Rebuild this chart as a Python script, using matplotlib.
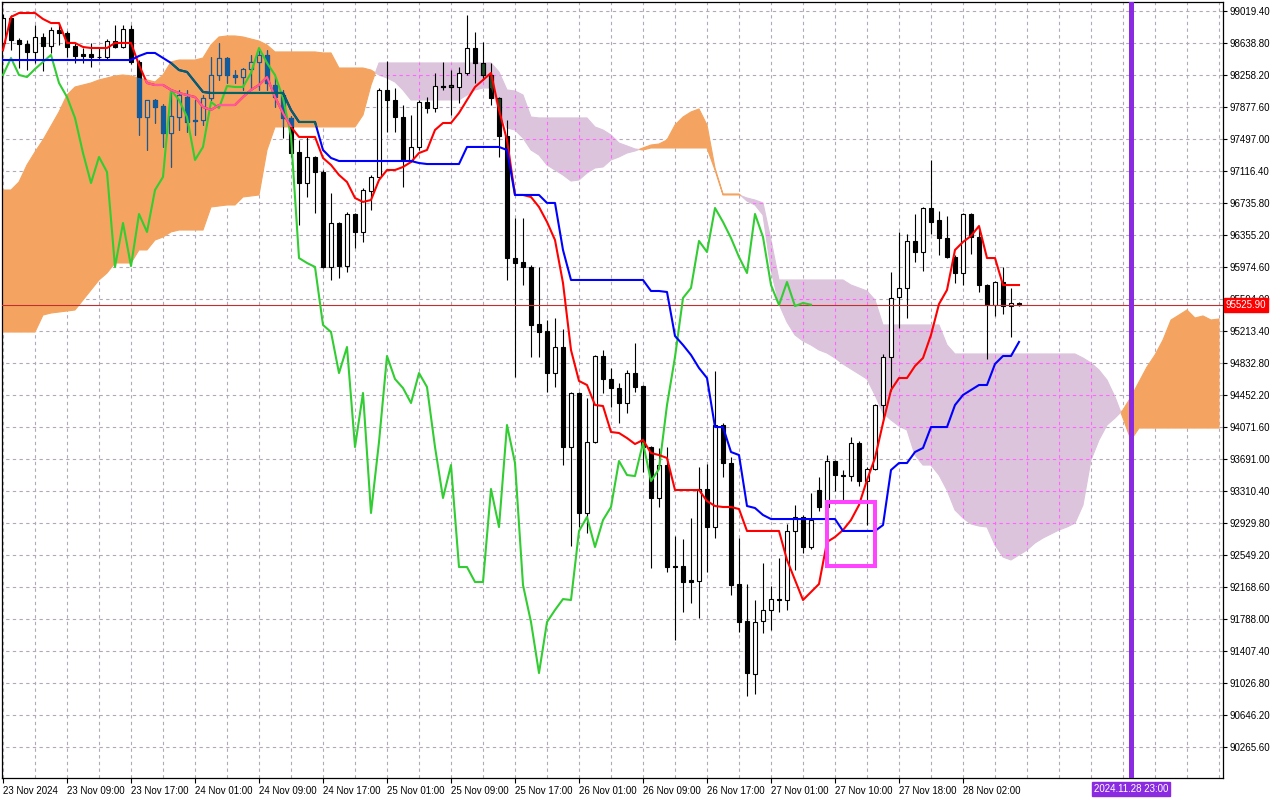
import numpy as np
import matplotlib
matplotlib.use("Agg")
import matplotlib.pyplot as plt
import matplotlib.transforms as mtrans
from matplotlib.path import Path
from matplotlib.patches import Rectangle

plt.rcParams['font.family'] = ['Liberation Sans', 'DejaVu Sans']

# hourly candles, 23 Nov 2024 00:00 .. 28 Nov 2024 09:00
opens = [98639, 98936, 98674, 98627, 98532, 98710, 98603, 98793, 98758, 98603,
         98508, 98508, 98472, 98472, 98662, 98591, 98805, 98413, 97758, 97961,
         97889, 97568, 97758, 97996, 97723, 97723, 97984, 98258, 98460, 98258,
         98234, 98329, 98413, 98496, 98139, 98020, 97747, 97342, 96973, 97283,
         97104, 95975, 96498, 95986, 96605, 96391, 96878, 97045, 98080, 97961,
         97758, 97247, 97402, 97937, 97865, 98127, 98139, 98115, 98282, 98579,
         98401, 98258, 97984, 97532, 96081, 96034, 95975, 95296, 95213, 94713,
         95023, 93833, 94476, 93049, 93893, 94916, 94642, 94535, 94357, 94713,
         94559, 93833, 93227, 93619, 92418, 92418, 92251, 92239, 93334, 92882,
         94095, 93643, 92204, 91764, 91133, 91764, 91895, 92025, 92014, 92834,
         93001, 92644, 93322, 93120, 93667, 93500, 93488, 93881, 93429, 93572,
         94333, 94904, 95618, 95725, 96284, 96153, 96676, 96533, 96319, 96093,
         95903, 96605, 96331, 95760, 95522, 95796, 95510, 95546]
highs = [98983, 98972, 98698, 98674, 98853, 98758, 98829, 98865, 98781, 98639,
         98579, 98639, 98579, 98686, 98853, 98853, 98853, 98436, 97961, 97972,
         97913, 98080, 98080, 98080, 97961, 98020, 98472, 98639, 98470, 98317,
         98341, 98496, 98555, 98555, 98234, 98080, 97770, 97485, 97521, 97290,
         97128, 96854, 96510, 96628, 96617, 96914, 97069, 98103, 98425, 98103,
         97901, 97782, 97961, 97996, 98282, 98413, 98317, 98353, 98972, 98769,
         98650, 98401, 97996, 97723, 96557, 96557, 95998, 95975, 95344, 95368,
         95237, 94490, 94490, 94416, 94925, 94987, 94773, 94595, 94749, 95070,
         94570, 93845, 93821, 93833, 92775, 92739, 92989, 93596, 93631, 94737,
         94119, 93714, 92751, 92204, 92014, 92454, 92180, 92513, 92918, 93144,
         93025, 93286, 93477, 93738, 93679, 93560, 93952, 93905, 93596, 94345,
         94939, 95915, 96391, 96367, 96605, 96690, 97247, 96641, 96581, 96117,
         96617, 96617, 96450, 95770, 95808, 95975, 95725, 95558]
lows = [98579, 98555, 98341, 98317, 98401, 98306, 98520, 98615, 98472, 98401,
        98401, 98353, 98436, 98436, 98579, 98579, 98389, 97544, 97366, 97687,
        97402, 97164, 97604, 97580, 97544, 97663, 97961, 98198, 98163, 98163,
        98080, 98080, 98080, 98080, 97877, 97509, 97283, 96474, 96807, 96617,
        95965, 95820, 95844, 95915, 96200, 96272, 96652, 97033, 97580, 97580,
        96926, 97223, 97366, 97806, 97818, 98080, 97782, 97925, 98258, 98163,
        98198, 97901, 97283, 95820, 94666, 95760, 94904, 94904, 94488, 94547,
        93619, 92656, 92882, 92810, 93881, 94476, 94309, 94119, 94238, 94488,
        93536, 92394, 93120, 92347, 91538, 91871, 91978, 91800, 92347, 92751,
        93477, 92073, 91633, 90872, 90896, 91621, 91657, 91871, 91895, 92370,
        92573, 92620, 93073, 93084, 93310, 93203, 93429, 93370, 92906, 93560,
        94154, 94500, 95249, 95368, 96034, 95927, 96367, 96117, 96080, 95784,
        95760, 96129, 95677, 94880, 95392, 95415, 95142, 95510]
closes = [98936, 98674, 98627, 98532, 98710, 98603, 98793, 98758, 98591, 98484,
          98484, 98472, 98466, 98662, 98591, 98805, 98413, 97758, 97961, 97877,
          97568, 97770, 98020, 97699, 97711, 97984, 98258, 98460, 98258, 98234,
          98329, 98413, 98496, 98163, 97996, 97747, 97330, 96973, 97283, 97104,
          95975, 96498, 95986, 96605, 96391, 96890, 97045, 98080, 97961, 97758,
          97247, 97402, 97937, 97865, 98127, 98115, 98115, 98282, 98579, 98401,
          98258, 97984, 97532, 96081, 96022, 95975, 95285, 95201, 94713, 95023,
          93833, 94476, 93049, 93893, 94916, 94642, 94535, 94357, 94713, 94547,
          93833, 93227, 93619, 92406, 92406, 92228, 92228, 93334, 92882, 94095,
          93643, 92192, 91752, 91145, 91752, 91895, 92025, 92014, 92834, 93001,
          92644, 92965, 93120, 93667, 93500, 93488, 93881, 93429, 93572, 94333,
          94904, 95606, 95725, 96284, 96153, 96676, 96510, 96319, 96093, 95903,
          96605, 96331, 95760, 95522, 95796, 95510, 95546, 95525.9]

tenkan = [98555, 98948, 98995, 98995, 98995, 98924, 98876, 98876, 98639, 98639,
          98591, 98579, 98579, 98579, 98639, 98639, 98639, 98377, 98163, 98139,
          98139, 98080, 98044, 98020, 97996, 97877, 97842, 97901, 97901, 97901,
          97996, 98080, 98139, 98234, 97996, 97806, 97640, 97521, 97521, 97521,
          97271, 97188, 97069, 96985, 96795, 96748, 96771, 97009, 97128, 97128,
          97164, 97223, 97330, 97366, 97604, 97687, 97687, 97806, 97961, 98115,
          98198, 98282, 97842, 97485, 96831, 96831, 96807, 96688, 96510, 96295,
          95784, 94987, 94619, 94571, 94333, 94321, 94012, 94000, 93940, 93869,
          93917, 93762, 93738, 93703, 93322, 93322, 93322, 93322, 93191, 93132,
          93120, 93120, 93096, 92835, 92835, 92835, 92835, 92835, 92490, 92252,
          92014, 92109, 92204, 92704, 92763, 92846, 92965, 93144, 93441, 93703,
          94119, 94511, 94654, 94654, 94797, 94892, 95166, 95534, 95701, 96177,
          96272, 96343, 96462, 96081, 96081, 95760, 95760, 95760]
kijun = [98436, 98436, 98436, 98436, 98436, 98436, 98436, 98436, 98436, 98436,
         98436, 98436, 98436, 98436, 98436, 98436, 98436, 98484, 98520, 98520,
         98460, 98401, 98317, 98294, 98175, 98056, 98044, 98044, 98044, 98044,
         98044, 98044, 98044, 98044, 98044, 98044, 97842, 97699, 97699, 97699,
         97366, 97271, 97235, 97235, 97235, 97235, 97235, 97235, 97235, 97235,
         97235, 97235, 97211, 97199, 97199, 97199, 97199, 97199, 97402, 97402,
         97402, 97402, 97402, 97366, 96831, 96831, 96831, 96831, 96736, 96736,
         96177, 95820, 95820, 95820, 95820, 95820, 95820, 95820, 95820, 95820,
         95820, 95689, 95689, 95677, 95154, 95047, 94928, 94773, 94654, 94071,
         94071, 93774, 93738, 93132, 93108, 93025, 92977, 92977, 92977, 92977,
         92977, 92977, 92977, 92977, 92977, 92835, 92835, 92835, 92835, 92835,
         92905, 93560, 93643, 93643, 93774, 93822, 94071, 94071, 94071, 94333,
         94452, 94511, 94571, 94571, 94821, 94916, 94916, 95083]
# senkou spans, already shifted 26 bars forward (153 bars)
span_a = [96890, 96890, 96985, 97188, 97342, 97485, 97651, 97818, 98020, 98115,
          98139, 98163, 98199, 98222, 98246, 98258, 98246, 98222, 98199, 98175,
          98258, 98413, 98436, 98436, 98436, 98460, 98615, 98710, 98722, 98722,
          98710, 98686, 98662, 98615, 98532, 98532, 98532, 98532, 98532, 98532,
          98520, 98520, 98341, 98341, 98341, 98341, 98317, 98258, 98222, 98175,
          98080, 97961, 97961, 97961, 97961, 97961, 97961, 97961, 98020, 98080,
          98103, 98103, 97842, 97628, 97604, 97509, 97366, 97306, 97188, 97128,
          97069, 96997, 97009, 97092, 97152, 97164, 97247, 97283, 97330, 97354,
          97390, 97425, 97437, 97485, 97663, 97758, 97818, 97854, 97663, 97152,
          96843, 96843, 96843, 96759, 96712, 96593, 95939, 95534, 95320, 95166,
          95094, 95047, 94987, 94951, 94892, 94821, 94761, 94702, 94642, 94452,
          94238, 94155, 94083, 94036, 93738, 93619, 93619, 93500, 93322, 93084,
          92989, 92918, 92894, 92882, 92668, 92525, 92490, 92549, 92608, 92692,
          92751, 92799, 92846, 92882, 92929, 93144, 93679, 93917, 94095, 94178,
          94274, 94428, 94607, 94785, 94928, 95106, 95344, 95403, 95463, 95368,
          95392, 95344, 95356]
span_b = [95201, 95201, 95201, 95201, 95201, 95403, 95427, 95439, 95451, 95463,
          95582, 95701, 95820, 95903, 96022, 96022, 96022, 96177, 96177, 96295,
          96331, 96391, 96414, 96414, 96414, 96414, 96688, 96700, 96712, 96712,
          96807, 96819, 96831, 97366, 97640, 97640, 97640, 97640, 97640, 97640,
          97640, 97640, 97640, 97640, 97640, 97782, 98139, 98401, 98401, 98401,
          98401, 98401, 98401, 98401, 98401, 98401, 98401, 98401, 98401, 98401,
          98401, 98401, 98294, 98080, 98068, 98020, 97758, 97747, 97747, 97747,
          97747, 97747, 97747, 97747, 97640, 97604, 97544, 97449, 97414, 97378,
          97366, 97390, 97390, 97390, 97390, 97390, 97390, 97390, 97390, 97128,
          96831, 96831, 96831, 96795, 96771, 96736, 96295, 95820, 95820, 95820,
          95820, 95820, 95820, 95820, 95820, 95820, 95760, 95725, 95689, 95582,
          95285, 95285, 95285, 95285, 95285, 95285, 95285, 95285, 95047, 94940,
          94940, 94940, 94940, 94940, 94940, 94940, 94940, 94940, 94940, 94940,
          94940, 94940, 94940, 94940, 94940, 94892, 94833, 94749, 94630, 94428,
          94178, 93917, 94059, 94059, 94059, 94059, 94059, 94059, 94059, 94059,
          94059, 94059, 94059]

price_ticks = [99019.40, 98638.80, 98258.20, 97877.60, 97497.00, 97116.40,
               96735.80, 96355.20, 95974.60, 95594.00, 95213.40, 94832.80,
               94452.20, 94071.60, 93691.00, 93310.40, 92929.80, 92549.20,
               92168.60, 91788.00, 91407.40, 91026.80, 90646.20, 90265.60]
time_ticks = [0, 8, 16, 24, 32, 40, 48, 56, 64, 72, 80, 88, 96, 104, 112, 120]
time_labels = ["23 Nov 2024", "23 Nov 09:00", "23 Nov 17:00", "24 Nov 01:00",
               "24 Nov 09:00", "24 Nov 17:00", "25 Nov 01:00", "25 Nov 09:00",
               "25 Nov 17:00", "26 Nov 01:00", "26 Nov 09:00", "26 Nov 17:00",
               "27 Nov 01:00", "27 Nov 10:00", "27 Nov 18:00", "28 Nov 02:00"]
last_price = 95525.90
future_bar = 141
future_label = "2024.11.28 23:00"
# rectangle object drawn on the chart
box_left, box_right = 102.95, 108.95
box_top, box_bottom = 93180, 92418

SANDY = "#F4A460"
THISTLE = "#DCC4DC"
GRID = "#b3a9b6"
FS = 7

o = np.array(opens, float)
h = np.array(highs, float)
l = np.array(lows, float)
c = np.array(closes, float)
xb = np.arange(len(o))
xs = np.arange(len(span_a))
sa = np.array(span_a, float)
sb = np.array(span_b, float)
chikou = c[26:]

fig = plt.figure(figsize=(12.8, 8), dpi=100)
ax = fig.add_axes([2 / 1280, 22 / 800, 1221 / 1280, 776 / 800])
ax.set_xlim(-0.125, 152.5)
ax.set_ylim(89897, 99126)

# grid
gx = np.arange(0, 153, 4)
ax.vlines(gx, 89897, 99126, colors=GRID, lw=0.8, linestyles=(0, (3, 3)), zorder=0)
ax.hlines(price_ticks, -1, 154, colors=GRID, lw=0.8, linestyles=(0, (3, 3)), zorder=0)

# kumo
orange = ax.fill_between(xs, sa, sb, where=sa >= sb, interpolate=True,
                         facecolor=SANDY, edgecolor=SANDY, lw=0.8, zorder=1)
thist = ax.fill_between(xs, sa, sb, where=sa < sb, interpolate=True,
                        facecolor=THISTLE, edgecolor=THISTLE, lw=0.8, zorder=1)
orange_path = Path.make_compound_path(*orange.get_paths())
thist_path = Path.make_compound_path(*thist.get_paths())

# grid shows through the thistle part in magenta
for coll in (ax.vlines(gx, 89897, 99126, colors="#ff66ff", lw=0.8, linestyles=(0, (3, 3)), zorder=1.5),
             ax.hlines(price_ticks, -1, 154, colors="#ff66ff", lw=0.8, linestyles=(0, (3, 3)), zorder=1.5)):
    coll.set_clip_path(thist_path, ax.transData)

bottoms = np.minimum(o, c)
heights = np.abs(c - o)
up = c >= o


def candles(face_up, face_dn, edge, z, clip=None, only_dn=False):
    arts = []
    if not only_dn:
        arts.append(ax.vlines(xb, l, h, colors=edge, lw=0.8, zorder=z))
    faces = [face_up if u else face_dn for u in up]
    sel = ~up if only_dn else np.ones(len(o), bool)
    bars = ax.bar(xb[sel], heights[sel], width=0.62, bottom=bottoms[sel],
                  color=[f for f, s in zip(faces, sel) if s], edgecolor=edge,
                  linewidth=0.8, zorder=z + 0.05)
    arts.extend(bars.patches)
    if clip is not None:
        for a in arts:
            a.set_clip_path(clip, ax.transData)


candles("white", "black", "black", 2)
candles(SANDY, "#115c9e", "#115c9e", 2.2, clip=orange_path)
candles("white", "#1f4a26", "black", 2.3, clip=thist_path, only_dn=True)

ax.axhline(last_price, color="#c03030", lw=0.8, zorder=3)

# ichimoku lines
ax.plot(xb[:len(chikou)], chikou, color="#32CD32", lw=1.5, zorder=4)
ax.plot(xb, tenkan, color="red", lw=1.5, zorder=4.1)
ax.plot(xb, kijun, color="blue", lw=1.5, zorder=4.2)
t2, = ax.plot(xb, tenkan, color="#ff5a9e", lw=1.5, zorder=4.15)
k2, = ax.plot(xb, kijun, color="#006464", lw=1.5, zorder=4.25)
t2.set_clip_path(orange_path, ax.transData)
k2.set_clip_path(orange_path, ax.transData)

ax.add_patch(Rectangle((box_left, box_bottom), box_right - box_left, box_top - box_bottom,
                       fill=False, edgecolor="#ff44ff", lw=2.9, zorder=5))
ax.axvline(future_bar, color="#8A2BE2", lw=3.6, zorder=5)

# axes styling
for s in ax.spines.values():
    s.set_color("black")
    s.set_linewidth(0.9)
ax.yaxis.tick_right()
ax.set_yticks(price_ticks)
ax.set_yticklabels([f"{v:.2f}" for v in price_ticks])
ax.tick_params(axis="y", direction="out", length=3, width=0.8, pad=2, labelsize=FS)
ax.set_xticks(time_ticks)
ax.set_xticklabels(time_labels)
for lbl in ax.get_xticklabels():
    lbl.set_ha("left")
ax.tick_params(axis="x", direction="out", length=3.5, width=0.8, pad=2.5, labelsize=FS)

tr_y = mtrans.blended_transform_factory(ax.transAxes, ax.transData)
ax.annotate(f"{last_price:.2f}", xy=(1, last_price), xycoords=tr_y,
            xytext=(2.0, 0), textcoords="offset points", ha="left", va="center",
            fontsize=FS, color="white", zorder=10, annotation_clip=False,
            bbox=dict(boxstyle="square,pad=0.2", fc="red", ec="red"))
tr_x = mtrans.blended_transform_factory(ax.transData, ax.transAxes)
ax.text(future_bar, -0.0145, future_label, transform=tr_x, ha="center", va="center",
        fontsize=FS, color="white", zorder=10, clip_on=False,
        bbox=dict(boxstyle="square,pad=0.2", fc="#8A2BE2", ec="#8A2BE2"))

fig.savefig("out.png", dpi=100, facecolor="white")
